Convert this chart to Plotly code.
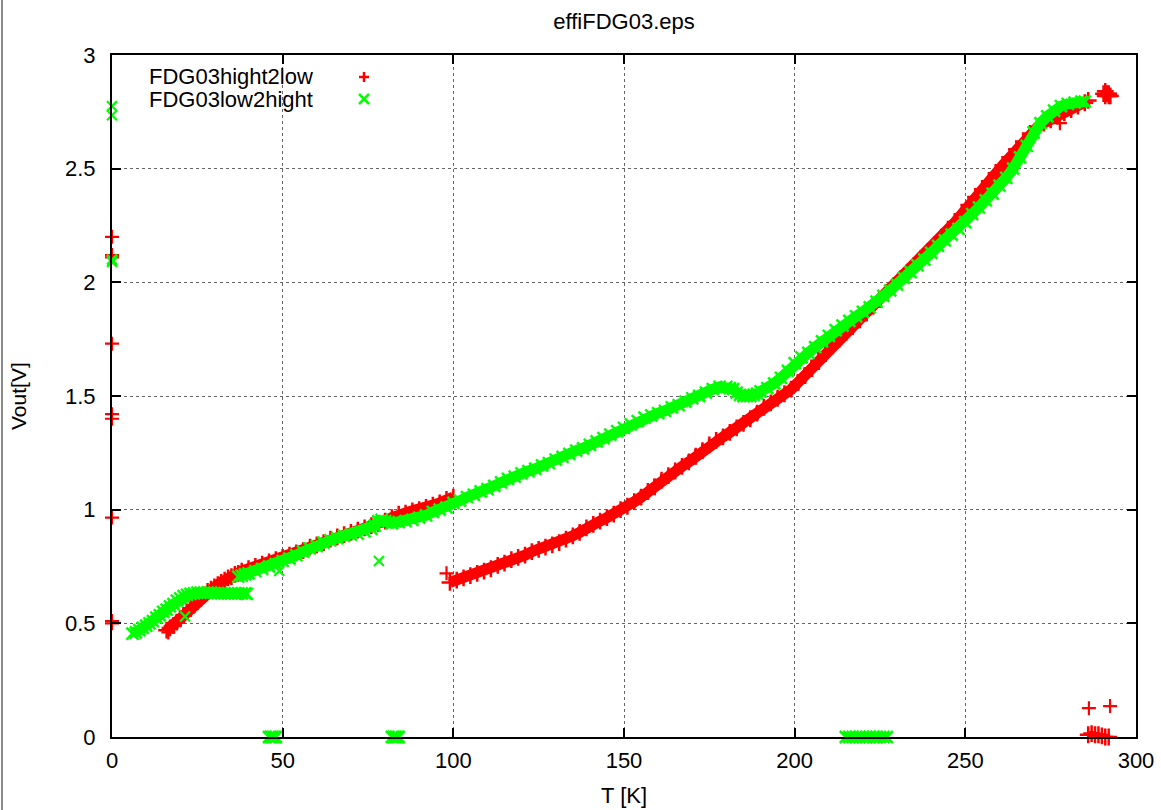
import plotly.graph_objects as go

# ---------------- data ----------------
# FDG03hight2low (red "+")
red_low_T = [16, 17, 18, 19, 20, 21, 22, 23, 24, 25, 26, 27, 28, 29, 30, 31, 32, 33, 34, 35, 36, 37, 38,
             40, 42, 44, 46, 48, 50, 52, 54, 56, 58, 60, 62, 64, 66, 68, 70, 72, 74, 76, 78, 80,
             82, 84, 86, 88, 90, 92, 94, 96, 98, 100]
red_low_V = [0.47, 0.48, 0.49, 0.505, 0.52, 0.535, 0.55, 0.565, 0.58, 0.595, 0.61, 0.625, 0.64, 0.65,
             0.66, 0.67, 0.68, 0.69, 0.70, 0.705, 0.715, 0.72, 0.73,
             0.74, 0.75, 0.76, 0.77, 0.78, 0.79, 0.80, 0.81, 0.82, 0.835, 0.845, 0.855, 0.87, 0.88,
             0.89, 0.90, 0.91, 0.92, 0.93, 0.94, 0.95, 0.965, 0.98, 0.985, 0.995, 1.00, 1.01, 1.02,
             1.03, 1.045, 1.055]

red_main_T = [99, 101, 103, 105, 107, 109, 111, 113, 115, 117, 119, 121, 123, 125, 127, 129, 131, 133,
              135, 137, 139, 141, 143, 145, 147, 149, 151, 153, 155, 157, 159, 161, 163, 165, 167, 169,
              171, 173, 175, 177, 179, 181, 183, 185, 187, 189, 191, 193, 195, 197, 199, 201, 203, 205,
              207, 209, 211, 213, 215, 217, 219, 221, 223, 225, 227, 229, 231, 233, 235, 237, 239, 241,
              243, 245, 247, 249, 251, 253, 255, 257, 259, 261, 263, 265, 267, 269, 271, 273, 275, 277,
              279, 281, 283, 285, 286]
red_main_V = [0.68, 0.69, 0.70, 0.71, 0.72, 0.73, 0.74, 0.755, 0.765, 0.78, 0.79, 0.80, 0.815, 0.825,
              0.835, 0.845, 0.855, 0.87, 0.885, 0.90, 0.92, 0.935, 0.95, 0.965, 0.98, 1.00, 1.015, 1.035,
              1.055, 1.08, 1.10, 1.13, 1.15, 1.17, 1.19, 1.21, 1.235, 1.26, 1.285, 1.305, 1.32, 1.34,
              1.36, 1.38, 1.40, 1.425, 1.45, 1.47, 1.49, 1.51, 1.53, 1.56, 1.59, 1.62, 1.655, 1.69, 1.72,
              1.75, 1.78, 1.805, 1.835, 1.865, 1.895, 1.925, 1.955, 1.985, 2.015, 2.045, 2.075, 2.105,
              2.135, 2.165, 2.195, 2.23, 2.265, 2.30, 2.34, 2.375, 2.41, 2.445, 2.48, 2.515, 2.55, 2.585,
              2.62, 2.655, 2.68, 2.70, 2.715, 2.73, 2.745, 2.76, 2.775, 2.79, 2.80]

red_end_T = [290.5, 291, 291.5, 292, 292.5, 291, 292]
red_end_V = [2.83, 2.84, 2.83, 2.82, 2.82, 2.82, 2.83]

red_zero_T = [286, 287, 288, 289, 290, 291, 292]
red_zero_V = [0.01, 0.015, 0.01, 0.01, 0.005, 0.0, 0.0]

red_out_T = [0, 0, 0, 0, 0, 0, 0, 0, 0, 16.5, 98, 286.2, 292.4, 277.7]
red_out_V = [2.20, 2.12, 2.11, 1.73, 1.42, 1.40, 0.965, 0.51, 0.50, 0.46, 0.72, 0.127, 0.136, 2.70]

# FDG03low2hight (green "x")
green_low_T = [6, 7, 8, 9, 10, 11, 12, 13, 14, 15, 16, 17, 18, 19, 20, 21, 22, 23]
green_low_V = [0.455, 0.46, 0.47, 0.48, 0.49, 0.50, 0.51, 0.525, 0.535, 0.55, 0.56, 0.575, 0.585,
               0.60, 0.61, 0.62, 0.625, 0.63]

green_flat_T = [24, 25, 26, 27, 28, 29, 30, 31, 32, 33, 34, 35, 36, 37, 38, 39, 39.5]
green_flat_V = [0.632, 0.635, 0.635, 0.635, 0.635, 0.635, 0.633, 0.633, 0.632, 0.632, 0.632, 0.632,
                0.632, 0.632, 0.632, 0.632, 0.63]

green_main_T = [37, 38, 39, 40, 42, 44, 46, 48, 50, 52, 54, 56, 58, 60, 62, 64, 66, 68, 70, 72, 74, 76,
                77, 78, 79, 80, 82, 84, 86, 88, 90, 92, 94, 96, 98, 100, 102, 104, 106, 108, 110, 112,
                114, 116, 118, 120, 122, 124, 126, 128, 130, 132, 134, 136, 138, 140, 142, 144, 146,
                148, 150, 152, 154, 156, 158, 160, 162, 164, 166, 168, 170, 172, 174, 176, 178, 180,
                181, 182, 183, 184, 185, 186, 187, 188, 189, 190, 192, 194, 196, 198, 200, 202, 204,
                206, 208, 210, 212, 214, 216, 218, 220, 222, 224, 226, 228, 230, 232, 234, 236, 238,
                240, 242, 244, 246, 248, 250, 252, 254, 256, 258, 260, 262, 264, 266, 268, 270, 272,
                274, 276, 278, 280, 282, 284, 285]
green_main_V = [0.705, 0.71, 0.715, 0.72, 0.73, 0.74, 0.75, 0.76, 0.775, 0.785, 0.80, 0.815, 0.83, 0.84,
                0.855, 0.865, 0.875, 0.885, 0.89, 0.895, 0.905, 0.915, 0.93, 0.95, 0.955, 0.95, 0.94,
                0.945, 0.95, 0.955, 0.965, 0.975, 0.99, 1.00, 1.01, 1.03, 1.04, 1.055, 1.065, 1.08,
                1.09, 1.105, 1.12, 1.135, 1.145, 1.16, 1.17, 1.18, 1.195, 1.205, 1.22, 1.232, 1.245,
                1.26, 1.27, 1.285, 1.30, 1.315, 1.33, 1.345, 1.36, 1.375, 1.39, 1.405, 1.415, 1.425,
                1.435, 1.45, 1.46, 1.475, 1.49, 1.50, 1.515, 1.53, 1.54, 1.54, 1.535, 1.53, 1.515,
                1.505, 1.50, 1.50, 1.50, 1.505, 1.51, 1.52, 1.535, 1.555, 1.58, 1.61, 1.645, 1.67,
                1.69, 1.715, 1.74, 1.765, 1.79, 1.81, 1.83, 1.85, 1.87, 1.89, 1.915, 1.94, 1.965, 1.99,
                2.02, 2.045, 2.075, 2.10, 2.13, 2.16, 2.185, 2.21, 2.235, 2.265, 2.30, 2.33, 2.36,
                2.39, 2.425, 2.46, 2.50, 2.55, 2.60, 2.66, 2.70, 2.73, 2.755, 2.775, 2.785, 2.79,
                2.795, 2.795]

green_zero1_T = [46, 46.5, 47, 47.5, 48]
green_zero2_T = [82, 82.5, 83, 83.5, 84]
green_zero3_T = [215, 216, 217, 218, 219, 220, 221, 222, 223, 224, 225, 226, 227]

green_out_T = [0, 0, 0, 0, 78.2, 21.4, 49]
green_out_V = [2.775, 2.735, 2.10, 2.09, 0.774, 0.53, 0.73]

legend_labels = ["FDG03hight2low", "FDG03low2hight"]
x_ticks = [0, 50, 100, 150, 200, 250, 300]
y_ticks = [0, 0.5, 1, 1.5, 2, 2.5, 3]

RED = "#ff0000"
GREEN = "#00ff00"
FONT = "Liberation Sans, Arial, sans-serif"

fig = go.Figure()


def band(T, V, color, symbol, lw=11, size=12):
    fig.add_trace(go.Scatter(
        x=T, y=V, mode="lines+markers", showlegend=False, cliponaxis=False,
        line=dict(color=color, width=lw),
        marker=dict(symbol=symbol, size=size, color=color, line=dict(color=color, width=2.5)),
        hoverinfo="skip"))


def points(T, V, color, symbol, size=10):
    fig.add_trace(go.Scatter(
        x=T, y=V, mode="markers", showlegend=False, cliponaxis=False,
        marker=dict(symbol=symbol, size=size, color=color, line=dict(color=color, width=2.2)),
        hoverinfo="skip"))


# red (drawn first, under green)
band(red_low_T, red_low_V, RED, "cross-thin-open")
band(red_main_T, red_main_V, RED, "cross-thin-open")
band(red_end_T, red_end_V, RED, "cross-thin-open", lw=6)
band(red_zero_T, red_zero_V, RED, "cross-thin-open", lw=6)
points(red_out_T, red_out_V, RED, "cross-thin-open")

# green
band(green_low_T, green_low_V, GREEN, "x-thin-open")
band(green_flat_T, green_flat_V, GREEN, "x-thin-open")
band(green_main_T, green_main_V, GREEN, "x-thin-open")
band(green_zero1_T, [0] * len(green_zero1_T), GREEN, "x-thin-open", lw=5)
band(green_zero2_T, [0] * len(green_zero2_T), GREEN, "x-thin-open", lw=5)
band(green_zero3_T, [0] * len(green_zero3_T), GREEN, "x-thin-open", lw=5)
points(green_out_T, green_out_V, GREEN, "x-thin-open")

# ---------------- layout ----------------
L, R, T_, B = 112, 25, 55, 73
W, H = 1161, 810
pw, ph = W - L - R, H - T_ - B


def px(xp):
    return (xp - L) / pw


def py(yp):
    return (H - B - yp) / ph


axis_common = dict(
    showline=True, linecolor="black", linewidth=2, mirror="ticks",
    ticks="inside", ticklen=9, tickwidth=1.5, tickcolor="black",
    showgrid=True, gridcolor="#666666", griddash="dot", gridwidth=1,
    zeroline=False, automargin=False, tickfont=dict(family=FONT, size=22, color="black"),
)

fig.update_layout(
    width=W, height=H,
    margin=dict(l=L, r=R, t=T_, b=B, autoexpand=False),
    paper_bgcolor="white", plot_bgcolor="white",
    title=dict(text="effiFDG03.eps", x=0.5, xref="paper", y=1 - 21 / H, yanchor="middle",
               font=dict(family=FONT, size=22, color="black")),
    xaxis=dict(range=[0, 300], tickvals=x_ticks, ticklabelstandoff=3, **axis_common),
    yaxis=dict(range=[0, 3], tickvals=y_ticks, ticklabelstandoff=10, **axis_common),
    showlegend=False,
)

annots = [
    dict(text="T [K]", x=0.5, y=py(795), xref="paper", yref="paper", showarrow=False,
         xanchor="center", yanchor="middle", font=dict(family=FONT, size=22, color="black")),
    dict(text="Vout[V]", x=px(18), y=0.5, xref="paper", yref="paper", showarrow=False,
         textangle=-90, xanchor="center", yanchor="middle", font=dict(family=FONT, size=21, color="black")),
    dict(text=legend_labels[0], x=px(147), y=py(77), xref="paper", yref="paper", showarrow=False,
         xanchor="left", yanchor="middle", font=dict(family=FONT, size=22, color="black")),
    dict(text=legend_labels[1], x=px(147), y=py(99), xref="paper", yref="paper", showarrow=False,
         xanchor="left", yanchor="middle", font=dict(family=FONT, size=22, color="black")),
]
fig.update_layout(annotations=annots)

# legend keys (drawn as small glyph shapes) and page border line
shapes = []
cx, r = 364, 5
for yy, color, kind in [(77, RED, "+"), (99, GREEN, "x")]:
    if kind == "+":
        segs = [((cx - r, yy), (cx + r, yy)), ((cx, yy - r), (cx, yy + r))]
    else:
        segs = [((cx - r, yy - r), (cx + r, yy + r)), ((cx - r, yy + r), (cx + r, yy - r))]
    for (x0, y0), (x1, y1) in segs:
        shapes.append(dict(type="line", xref="paper", yref="paper",
                           x0=px(x0), y0=py(y0), x1=px(x1), y1=py(y1),
                           line=dict(color=color, width=2.5)))
shapes.append(dict(type="line", xref="paper", yref="paper", x0=px(2), x1=px(2), y0=py(0), y1=py(H),
                   line=dict(color="#8a8a8a", width=2)))
fig.update_layout(shapes=shapes)

fig.write_html("out.html", config={"displayModeBar": False},
               post_script="document.body.style.margin='0';document.body.style.overflow='hidden';")
